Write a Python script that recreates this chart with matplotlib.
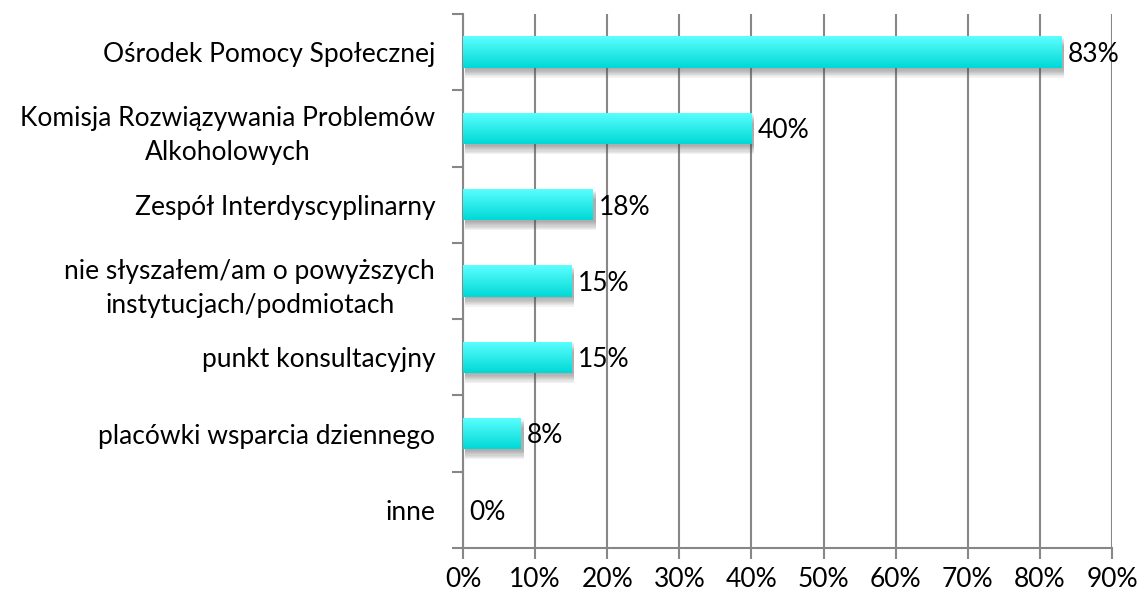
import matplotlib
matplotlib.use("Agg")
import matplotlib.pyplot as plt
import numpy as np

plt.rcParams['font.family'] = ['Lato', 'DejaVu Sans']

categories = [
    "Ośrodek Pomocy Społecznej",
    "Komisja Rozwiązywania Problemów\nAlkoholowych",
    "Zespół Interdyscyplinarny",
    "nie słyszałem/am o powyższych\ninstytucjach/podmiotach",
    "punkt konsultacyjny",
    "placówki wsparcia dziennego",
    "inne",
]
values = [83, 40, 18, 15, 15, 8, 0]
labels = ["83%", "40%", "18%", "15%", "15%", "8%", "0%"]

grid_col = '#878787'
fs = 19

fig = plt.figure(figsize=(11.42, 5.98), dpi=100)
ax = fig.add_axes([0.4054, 0.0836, 0.5683, 0.893])

y = np.arange(len(categories))
bars = ax.barh(y, values, height=0.41, color='none', zorder=3)

# vertical cyan gradient with soft shadow underneath
grad = np.linspace(0, 1, 64).reshape(-1, 1)
cmap = matplotlib.colors.LinearSegmentedColormap.from_list('cy', ['#5cffff', '#00d9d6'])
for b in bars:
    if b.get_width() <= 0:
        continue
    x0, y0, w, h = b.get_x(), b.get_y(), b.get_width(), b.get_height()
    for k in np.linspace(0.02, 0.13, 8):
        sh = plt.Rectangle((x0 + 0.3, y0 + k), w + 0.1, h, color='#505050', alpha=0.07,
                           lw=0, zorder=2)
        ax.add_patch(sh)
    im = ax.imshow(grad, extent=(x0, x0 + w, y0 + h, y0), cmap=cmap,
                   aspect='auto', zorder=3, interpolation='bilinear')
    im.set_clip_path(b)

for b, lab in zip(bars, labels):
    ax.text(b.get_width() + 0.9 if b.get_width() > 0 else 0.9,
            b.get_y() + b.get_height() / 2 + 0.03, lab,
            va='center', ha='left', fontsize=fs, zorder=5)

ax.set_xlim(0, 90)
ax.set_ylim(len(categories) - 0.5, -0.5)
ax.set_xticks(np.arange(0, 91, 10))
ax.set_xticklabels([f"{v}%" for v in range(0, 91, 10)], fontsize=fs)
ax.set_yticks(y)
ax.set_yticklabels(categories, fontsize=fs, multialignment='center', linespacing=1.45)
ax.set_yticks(np.arange(-0.5, len(categories), 1), minor=True)
ax.tick_params(axis='y', which='major', length=0, pad=20)
ax.tick_params(axis='y', which='minor', length=8, width=1.5, color=grid_col)
ax.tick_params(axis='x', length=8, width=1.5, color=grid_col, pad=6)

ax.grid(axis='x', color=grid_col, linewidth=1.5, zorder=0)
ax.set_axisbelow(True)
for s in ['top', 'right']:
    ax.spines[s].set_visible(False)
for s in ['left', 'bottom']:
    ax.spines[s].set_color(grid_col)
    ax.spines[s].set_linewidth(1.5)

fig.savefig('out.png', dpi=100)
